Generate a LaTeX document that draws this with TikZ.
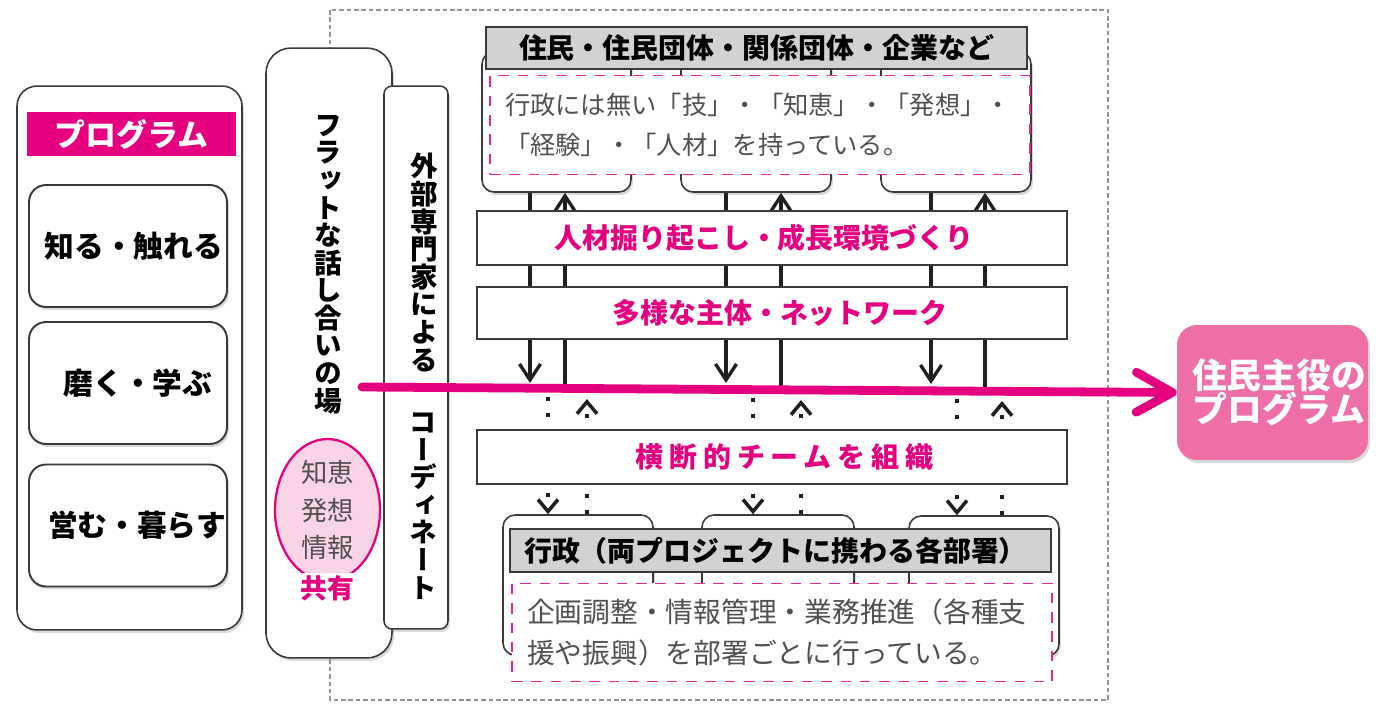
\documentclass[tikz,border=0pt]{standalone}
\usepackage{fontspec}
\setmainfont{Noto Sans CJK JP}
\newfontfamily\vjp[RawFeature=+vert]{Noto Sans CJK JP}
\usetikzlibrary{arrows.meta,shadows,shapes.geometric}
\definecolor{mag}{HTML}{E4007F}
\definecolor{goalpink}{HTML}{EE6EA8}
\definecolor{ellpink}{HTML}{F9D4E4}
\definecolor{headgray}{HTML}{D1D2D4}
\definecolor{edge}{HTML}{3A3A3A}
\definecolor{softtext}{HTML}{505050}
\def\fsz#1#2{\fontsize{#1pt}{#2pt}\selectfont}
\def\pad#1{\hspace*{#1}}
\lineskiplimit=-40pt \lineskip=0pt
\tikzset{
  areaframe/.style={draw=gray!85, dashed, dash pattern=on 2.6pt off 1.6pt, line width=0.6pt},
  softbox/.style={draw=edge, line width=0.9pt, fill=white, drop shadow={opacity=0.3, shadow xshift=0.04cm, shadow yshift=-0.06cm}},
  backbox/.style={softbox, rounded corners=0.24cm, minimum height=2.8cm},
  stepbox/.style={softbox, line width=1.1pt, rounded corners=0.34cm, minimum width=3.96cm, minimum height=2.44cm, inner sep=0pt, font=\bfseries\fsz{16.9}{17}},
  headbox/.style={draw=edge, line width=0.9pt, fill=headgray, minimum width=10.82cm, minimum height=0.85cm, inner sep=0pt, font=\bfseries\fsz{15.9}{16}},
  notebox/.style={draw=mag!85, dashed, dash pattern=on 6pt off 5pt, line width=0.7pt, fill=white, minimum width=10.8cm, minimum height=1.97cm, inner xsep=0.3cm, align=left, text=softtext},
  band/.style={draw=edge, line width=0.9pt, fill=white, minimum width=11.8cm, minimum height=1.08cm, inner sep=0pt, text=mag, font=\bfseries\fsz{15.9}{16}},
  vtext/.style={align=center, inner sep=0pt, font=\vjp\bfseries\fsz{15.7}{15.7}},
  solidarrow/.style={draw=black!88, line width=1.9pt, -{Straight Barb[length=0.32cm, width=0.42cm]}},
  dotarrow/.style={draw=black!88, line width=2pt, dash pattern=on 2.4pt off 6.7pt, -{Straight Barb[length=0.24cm, width=0.4cm]}},
  flowline/.style={draw=mag, line width=5pt, line cap=round, -{Straight Barb[length=0.72cm, width=0.8cm, round]}},
  goalbox/.style={fill=goalpink, rounded corners=0.4cm, minimum width=3.82cm, minimum height=2.7cm, inner sep=0pt, text=white, align=center, font=\bfseries\fsz{19.8}{19.3}, drop shadow={opacity=0.3, shadow xshift=0.04cm, shadow yshift=-0.06cm}}
}

\begin{document}
\begin{tikzpicture}[x=0.02cm, y=-0.02cm]
		%%%%% START %%%%%
		\useasboundingbox (0,0) rectangle (1377,704);
		
		\draw[areaframe] (330,10) rectangle (1108,700);
		
		% boxes behind the two groups
		\node[backbox, minimum width=2.98cm] (rt1) at (556.5,122) {};
		\node[backbox, minimum width=3cm] (rt2) at (756,122) {};
		\node[backbox, minimum width=3cm] (rt3) at (956,122) {};
		\node[backbox, minimum width=3cm] (rb1) at (578,585) {};
		\node[backbox, minimum width=3.04cm] (rb2) at (778,585) {};
		\node[backbox, minimum width=3cm] (rb3) at (984,586) {};
		
		% points on the flow line
		\coordinate (fs) at (362,387);
		\coordinate (d1) at (530,383);
		\coordinate (d2) at (726,383);
		\coordinate (d3) at (931,384);
		\coordinate (u1) at (565,388);
		\coordinate (u2) at (781,389);
		\coordinate (u3) at (985,390);
		\coordinate (e1) at (548,397);
		\coordinate (e2) at (753,398);
		\coordinate (e3) at (957,399);
		\coordinate (v1) at (587,399);
		\coordinate (v2) at (801,400);
		\coordinate (v3) at (1002,401);
		
		\draw[solidarrow] (rt1.south -| d1) -- (d1);
		\draw[solidarrow] (u1) -- (rt1.south -| u1);
		\draw[solidarrow] (rt2.south -| d2) -- (d2);
		\draw[solidarrow] (u2) -- (rt2.south -| u2);
		\draw[solidarrow] (rt3.south -| d3) -- (d3);
		\draw[solidarrow] (u3) -- (rt3.south -| u3);
		
		\draw[dotarrow] (e1) -- (rb1.north -| e1);
		\draw[dotarrow] (rb1.north -| v1) -- (v1);
		\draw[dotarrow] (e2) -- (rb2.north -| e2);
		\draw[dotarrow] (rb2.north -| v2) -- (v2);
		\draw[dotarrow] (e3) -- (rb3.north -| e3);
		\draw[dotarrow] (rb3.north -| v3) -- (v3);
		
		\node[band] (talent) at (772,238) {人材掘り起こし・成長環境づくり\pad{0.32cm}};
		\node[band, minimum height=1.04cm] (network) at (772,313) {\pad{0.32cm}多様な主体・ネットワーク};
		\node[band] (team) at (772,457) {\pad{0.5cm}\addfontfeature{LetterSpace=21}横断的チームを組織};
		
		\node[headbox] (rhead) at (756.5,48) {住民・住民団体・関係団体・企業など};
		\node[notebox, text width=10.2cm, font=\fsz{14.4}{22.7}] (rtext) at (760,125) {行政には無い「技」・「知恵」・「発想」・\\「経験」・「人材」を持っている。};
		\node[headbox] (bhead) at (780.5,550.5) {行政（両プロジェクトに携わる各部署）\pad{0.2cm}};
		\node[notebox, text width=10.2cm, font=\fsz{15.8}{23.2}] (btext) at (782,632.5) {企画調整・情報管理・業務推進（各種支\\援や振興）を部署ごとに行っている。};
		
		% program column
		\node[softbox, rounded corners=0.4cm, minimum width=4.5cm, minimum height=10.88cm] (prog) at (129.5,358) {};
		\node[fill=mag, minimum width=4.18cm, minimum height=0.88cm, inner sep=0pt, text=white, font=\bfseries\fsz{17.6}{18}] (proghead) at (131.5,134) {プログラム};
		\node[stepbox] (know) at (128,246) {\pad{0.24cm}知る・触れる};
		\node[stepbox] (learn) at (128,383) {\pad{0.4cm}磨く・学ぶ};
		\node[stepbox] (live) at (128,525.5) {\pad{0.36cm}営む・暮らす};
		
		% talk and coordination
		\node[softbox, rounded corners=0.5cm, minimum width=2.52cm, minimum height=12.2cm] (flat) at (329,353) {};
		\node[vtext] (flattxt) at (328,264.5) {フ\\ラ\\ッ\\ト\\な\\話\\し\\合\\い\\の\\場};
		\begin{scope}
			\clip (260,430) rectangle (390,572);
			\node[ellipse, draw=mag, line width=1.3pt, fill=ellpink, minimum width=2.1cm, minimum height=2.84cm, inner sep=0pt, align=center, text=softtext, font=\fsz{15}{21.5}] (chie) at (327.5,510) {知恵\\発想\\情報};
		\end{scope}
		\node[text=mag, font=\bfseries\fsz{15.3}{16}] (share) at (327,588) {共有};
		\node[softbox, rounded corners=0.16cm, minimum width=1.28cm, minimum height=10.86cm] (coord) at (416,357.5) {};
		\node[vtext] (coordtxt) at (424,262.5) {外\\部\\専\\門\\家\\に\\よ\\る};
		\node[vtext] (coordtxt2) at (423,506) {コ\\ー\\デ\\ィ\\ネ\\ー\\ト};
		
		% goal
		\node[goalbox] (goal) at (1272.5,392.5) {\pad{0.26cm}住民主役の\\\pad{0.26cm}プログラム};
		\draw[flowline] (fs) -- (goal.west);
		
		%%%%% END %%%%%
	\end{tikzpicture}
\end{document}
